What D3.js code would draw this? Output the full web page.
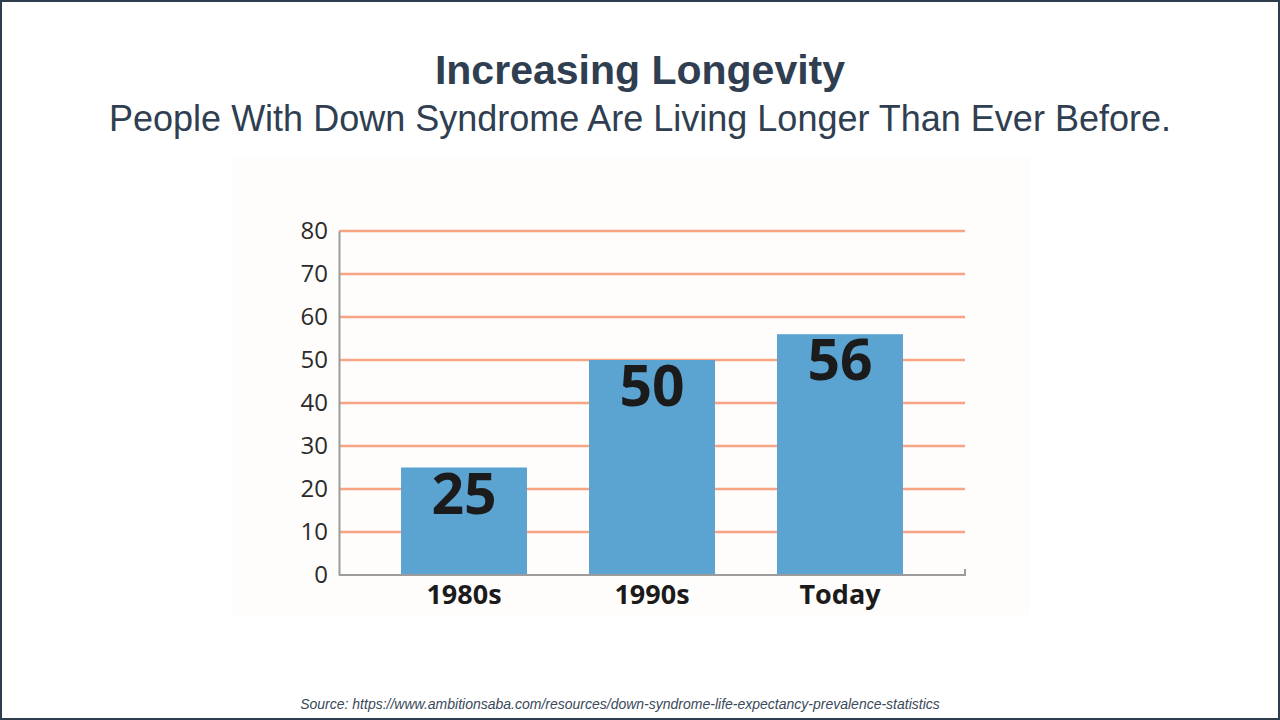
<!DOCTYPE html>
<html>
<head>
<meta charset="utf-8">
<script src="https://cdn.jsdelivr.net/npm/d3@7"></script>
<style>
  html, body { margin: 0; padding: 0; background: #fff; }
  #chart { width: 1280px; height: 720px; }
</style>
</head>
<body>
<div id="chart"></div>
<script>
// Data
const categories = ["1980s", "1990s", "Today"];
const lifeExpectancy = [25, 50, 56];
const yTicks = [0, 10, 20, 30, 40, 50, 60, 70, 80];

const titleText = "Increasing Longevity";
const subtitleText = "People With Down Syndrome Are Living Longer Than Ever Before.";
const sourceText = "Source: https://www.ambitionsaba.com/resources/down-syndrome-life-expectancy-prevalence-statistics";

const width = 1280;
const height = 720;

const svg = d3.select("#chart")
    .append("svg")
    .attr("width", width)
    .attr("height", height);

// slide frame
svg.append("rect")
    .attr("x", 1).attr("y", 1)
    .attr("width", width - 2).attr("height", height - 2)
    .attr("fill", "#fff")
    .attr("stroke", "#2e3e50")
    .attr("stroke-width", 2);

// title block
svg.append("text")
    .attr("x", 640).attr("y", 84)
    .attr("text-anchor", "middle")
    .attr("font-family", "'Liberation Sans', Arial, sans-serif")
    .attr("font-weight", "bold")
    .attr("font-size", 41)
    .attr("fill", "#2f3e50")
    .text(titleText);

svg.append("text")
    .attr("x", 640).attr("y", 131)
    .attr("text-anchor", "middle")
    .attr("font-family", "'Liberation Sans', Arial, sans-serif")
    .attr("font-size", 36)
    .attr("fill", "#2f3e50")
    .text(subtitleText);

// the pasted chart picture had an off-white background
svg.append("rect")
    .attr("x", 232).attr("y", 156)
    .attr("width", 798).attr("height", 459)
    .attr("fill", "#fefdfc");

// Scales
const x = d3.scaleBand()
    .domain(categories)
    .range([339, 965])
    .paddingInner(0.33)
    .paddingOuter(0.33);

const y = d3.scaleLinear()
    .domain([0, 80])
    .range([575, 231]);

const chartFont = "'Open Sans', 'DejaVu Sans', sans-serif";

// gridlines
svg.append("g")
    .selectAll("line")
    .data(yTicks.filter(d => d > 0))
    .enter().append("line")
    .attr("x1", x.range()[0])
    .attr("x2", x.range()[1])
    .attr("y1", d => y(d))
    .attr("y2", d => y(d))
    .attr("stroke", "#f7a482")
    .attr("stroke-width", 2.5);

// y axis labels
const yAxis = d3.axisLeft(y)
    .tickValues(yTicks)
    .tickSize(0)
    .tickPadding(11);

const yG = svg.append("g")
    .attr("transform", `translate(${x.range()[0]},0)`)
    .call(yAxis);
yG.select(".domain").attr("stroke", "#9c9c9c").attr("stroke-width", 2);
yG.selectAll("text")
    .attr("font-family", chartFont)
    .attr("font-size", 24)
    .attr("fill", "#2b2b2b");

// bars
svg.append("g")
    .selectAll("rect")
    .data(lifeExpectancy)
    .enter().append("rect")
    .attr("x", (d, i) => x(categories[i]))
    .attr("y", d => y(d))
    .attr("width", x.bandwidth())
    .attr("height", d => y(0) - y(d))
    .attr("fill", "#5ba3d1");

// value labels
svg.append("g")
    .selectAll("text")
    .data(lifeExpectancy)
    .enter().append("text")
    .attr("x", (d, i) => x(categories[i]) + x.bandwidth() / 2)
    .attr("y", d => y(d) + 46)
    .attr("text-anchor", "middle")
    .attr("font-family", chartFont)
    .attr("font-weight", "bold")
    .attr("font-size", 57)
    .attr("fill", "#1b1b1b")
    .text(d => d);

// x axis
const xAxis = d3.axisBottom(x)
    .tickSize(0)
    .tickPadding(10);

const xG = svg.append("g")
    .attr("transform", `translate(0,${y(0)})`)
    .call(xAxis);
xG.select(".domain").remove();
xG.selectAll("text")
    .attr("font-family", chartFont)
    .attr("font-weight", "bold")
    .attr("font-size", 27)
    .attr("fill", "#1b1b1b");

// baseline with a small end tick on the right
svg.append("path")
    .attr("d", d3.line()([
        [x.range()[0], y(0)],
        [x.range()[1], y(0)],
        [x.range()[1], y(0) - 6]
    ]))
    .attr("fill", "none")
    .attr("stroke", "#9c9c9c")
    .attr("stroke-width", 2);

// source note
svg.append("text")
    .attr("x", 620).attr("y", 709)
    .attr("text-anchor", "middle")
    .attr("font-family", "'Liberation Sans', Arial, sans-serif")
    .attr("font-style", "italic")
    .attr("font-size", 14)
    .attr("fill", "#3a4a5a")
    .text(sourceText);
</script>
</body>
</html>
